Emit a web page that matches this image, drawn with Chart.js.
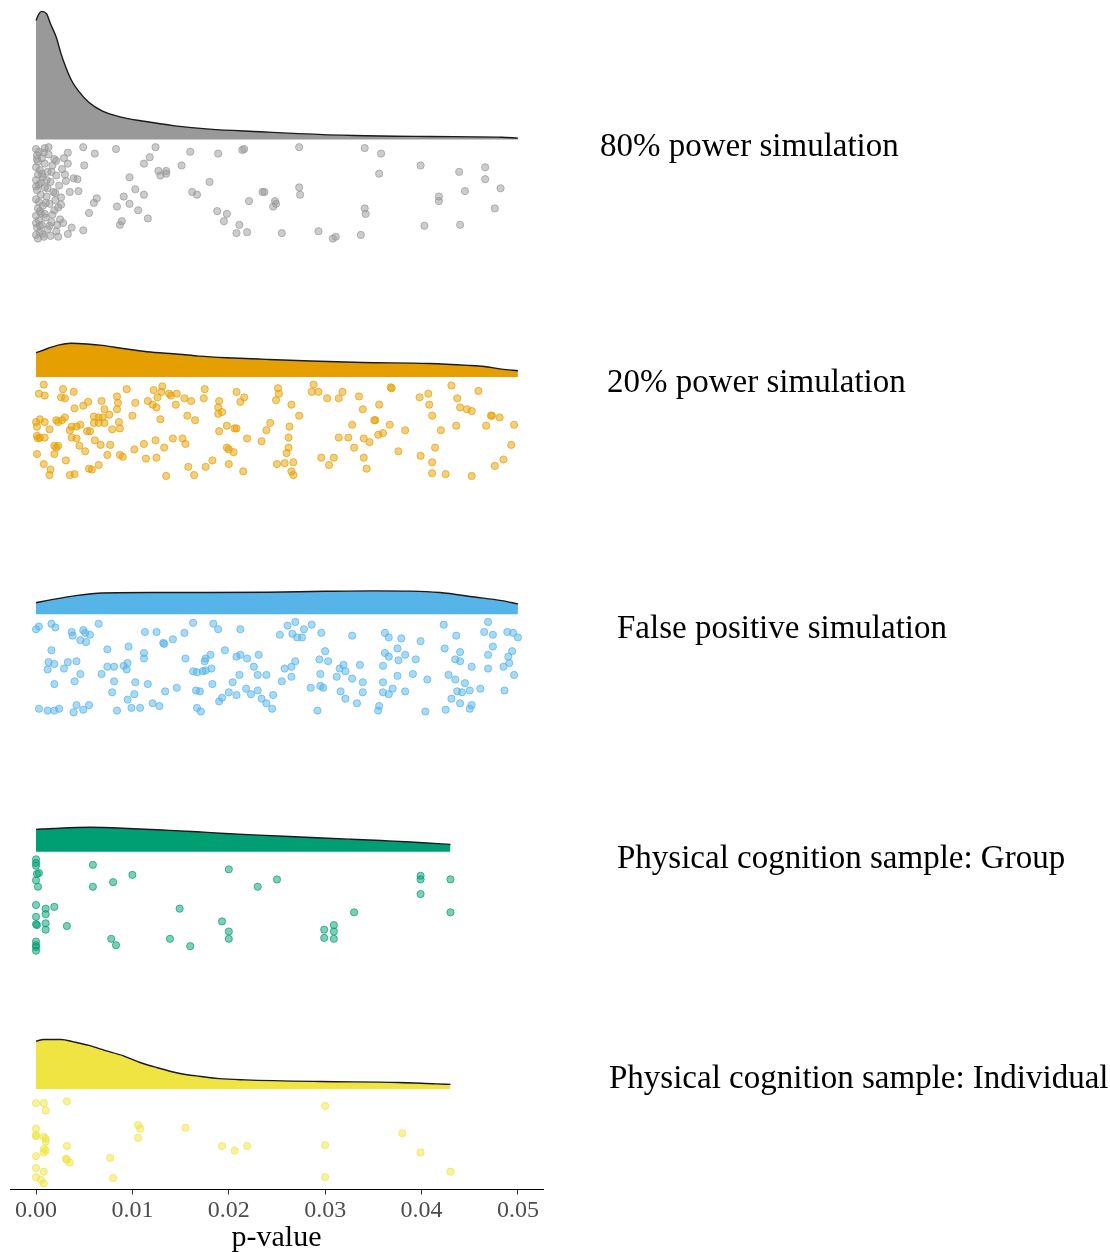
<!DOCTYPE html>
<html>
<head>
<meta charset="utf-8">
<script src="https://cdn.jsdelivr.net/npm/chart.js@4.4.1/dist/chart.umd.min.js"></script>
<style>
  html, body { margin: 0; padding: 0; background: #fff; }
  #wrap { width: 1110px; height: 1252px; position: relative; }
</style>
</head>
<body>
<div id="wrap"><canvas id="rain"></canvas></div>
<script>
'use strict';

// groups, top to bottom
var groupNames = [
  '80% power simulation',
  '20% power simulation',
  'False positive simulation',
  'Physical cognition sample: Group',
  'Physical cognition sample: Individual'
];
var groupColors = ['#999999', '#E69F00', '#56B4E9', '#009E73', '#F0E442'];
var xTicks = [0, 0.01, 0.02, 0.03, 0.04, 0.05];

// density outlines (p-value, height in group units)
var dens80P = [0, 0.0003, 0.0006, 0.0011, 0.0015, 0.0021, 0.0026, 0.0031, 0.0037, 0.0044, 0.0055, 0.0069, 0.0087, 0.0112, 0.0144, 0.018, 0.0233, 0.0272, 0.033, 0.0408, 0.0483, 0.05];
var dens80H = [0.502, 0.53, 0.54, 0.53, 0.488, 0.431, 0.361, 0.304, 0.248, 0.205, 0.156, 0.12, 0.096, 0.077, 0.058, 0.044, 0.033, 0.025, 0.017, 0.013, 0.01, 0.006];
var dens20P = [0, 0.0012, 0.0024, 0.0036, 0.0053, 0.0069, 0.009, 0.0115, 0.0148, 0.0169, 0.0198, 0.0239, 0.0285, 0.0339, 0.0408, 0.0448, 0.0465, 0.0483, 0.05];
var dens20H = [0.102, 0.12, 0.135, 0.142, 0.139, 0.133, 0.12, 0.106, 0.096, 0.088, 0.081, 0.074, 0.067, 0.061, 0.057, 0.049, 0.044, 0.033, 0.026];
var densFpP = [0, 0.0015, 0.0043, 0.0069, 0.012, 0.018, 0.024, 0.03, 0.035, 0.0389, 0.0419, 0.0455, 0.0483, 0.05];
var densFpH = [0.049, 0.061, 0.08, 0.09, 0.092, 0.092, 0.093, 0.097, 0.099, 0.098, 0.092, 0.073, 0.058, 0.044];
var densGrpP = [0, 0.0018, 0.0056, 0.0101, 0.0138, 0.0167, 0.0196, 0.0225, 0.0257, 0.0291, 0.0325, 0.0358, 0.0389, 0.0417, 0.043];
var densGrpH = [0.094, 0.098, 0.103, 0.097, 0.09, 0.084, 0.077, 0.071, 0.065, 0.059, 0.053, 0.047, 0.041, 0.034, 0.031];
var densIndP = [0, 0.0008, 0.0026, 0.0039, 0.0055, 0.0072, 0.009, 0.0108, 0.0126, 0.0147, 0.0169, 0.019, 0.0217, 0.0296, 0.0376, 0.0415, 0.043];
var densIndH = [0.202, 0.209, 0.209, 0.199, 0.184, 0.162, 0.141, 0.112, 0.09, 0.068, 0.054, 0.044, 0.039, 0.032, 0.028, 0.022, 0.02];

// jittered points: [p-value, jitter 0 (top) .. 1 (bottom)]
var pts80 = [
  [0.0013,0],[0.0049,0],[0.0061,0.07],[0.0083,0.02],[0.0124,0],[0.0118,0.11],[0.016,0.05],[0.0189,0.07],[0.0214,0.03],[0.0216,0.02],
  [0.0273,0],[0.0341,0.01],[0.0358,0.07],[0.0033,0.06],[0.0021,0.15],[0.0029,0.12],[0.0033,0.18],[0.005,0.2],[0.0112,0.18],[0.0151,0.2],
  [0.0399,0.2],[0.0439,0.27],[0.0466,0.22],[0.0466,0.35],[0.0356,0.29],[0.0097,0.33],[0.0127,0.26],[0.0129,0.31],[0.0135,0.29],[0.0135,0.26],
  [0.018,0.38],[0.003,0.3],[0.0039,0.34],[0.0043,0.35],[0.0031,0.37],[0.0044,0.48],[0.0035,0.49],[0.0103,0.46],[0.0112,0.52],[0.0091,0.54],
  [0.0063,0.56],[0.006,0.61],[0.0162,0.49],[0.0167,0.52],[0.0235,0.49],[0.0237,0.49],[0.0273,0.44],[0.0274,0.52],[0.0482,0.45],[0.0445,0.48],
  [0.0418,0.54],[0.0418,0.59],[0.0248,0.59],[0.0249,0.62],[0.0246,0.65],[0.0221,0.59],[0.0097,0.62],[0.0084,0.65],[0.0106,0.69],[0.0341,0.67],
  [0.0342,0.73],[0.0476,0.67],[0.0055,0.72],[0.0188,0.7],[0.0198,0.73],[0.0195,0.81],[0.0116,0.78],[0.0089,0.81],[0.0087,0.85],[0.0211,0.85],
  [0.0403,0.86],[0.044,0.85],[0.0049,0.91],[0.0037,0.88],[0.0028,0.83],[0.0208,0.94],[0.0219,0.93],[0.0255,0.94],[0.0293,0.92],[0.0308,1],
  [0.0311,0.98],[0.0337,0.96],[0.0033,0.95],[0.0023,0.98],
  [0,0.02],[0.0003,0.05],[0.0001,0.09],[0.0006,0.12],[0.0002,0.16],[0.0009,0.18],[0,0.22],[0.0004,0.25],[0.0012,0.27],[0.0002,0.3],
  [0.0007,0.33],[0,0.36],[0.0015,0.38],[0.0003,0.41],[0.0009,0.44],[0.0001,0.47],[0.0018,0.49],[0.0005,0.52],[0.0011,0.54],[0,0.57],
  [0.0003,0.6],[0.0014,0.62],[0.0007,0.64],[0.0002,0.67],[0.0019,0.69],[0.0005,0.72],[0,0.75],[0.001,0.77],[0.0003,0.8],[0.0016,0.82],
  [0.0006,0.85],[0.0001,0.88],[0.0012,0.9],[0.0004,0.93],[0,0.96],[0.0008,0.98],[0.0002,1],[0.0013,0.08],[0.0017,0.2],[0.0021,0.31],
  [0.0024,0.42],[0.002,0.58],[0.0023,0.66],[0.0017,0.74],[0.0025,0.79],[0.0021,0.92],[0.0015,0.97],[0.0008,0.06],[0.0005,0.39],[0.001,0.61],
  [0.0004,0.86],[0.0026,0.55],[0.0027,0.24],[0.0012,0.45],
  [0.0001,0.13],[0.0006,0.29],[0,0.43],[0.0011,0.36],[0.0004,0.7],[0.0009,0.73],[0,0.83],[0.0014,0.86],[0.0007,0.95],[0.0019,0.13],
  [0.002,0.5],[0.0016,0.27],[0.0009,0.01],[0.0026,0.63],[0.0022,0.85]
];
var pts20 = [
  [0.0008,0],[0.0003,0.1],[0.0009,0.12],[0.0028,0.05],[0.003,0.15],[0.0026,0.14],[0.0039,0.08],[0.004,0.26],[0.0049,0.23],[0.0054,0.19],
  [0.0068,0.18],[0.0071,0.27],[0.0076,0.33],[0.0084,0.27],[0.0085,0.2],[0.0084,0.13],[0.0094,0.05],[0.0103,0.2],[0.01,0.34],[0.0116,0.18],
  [0.0121,0.22],[0.0125,0.25],[0.0126,0.14],[0.013,0.08],[0.0122,0.06],[0.0131,0.02],[0.0138,0.1],[0.014,0.12],[0.0146,0.1],[0.0145,0.22],
  [0.0154,0.15],[0.0161,0.18],[0.0175,0.05],[0.0174,0.15],[0.019,0.18],[0.0189,0.25],[0.0189,0.32],[0.0193,0.3],[0.0208,0.08],[0.0212,0.19],
  [0.0216,0.14],[0.0251,0.04],[0.0252,0.1],[0.0249,0.17],[0.0265,0.22],[0.0273,0.34],[0.0288,0],[0.0286,0.08],[0.0293,0.08],[0.0302,0.15],
  [0.0314,0.15],[0.0318,0.08],[0.0335,0.13],[0.0339,0.27],[0.0356,0.22],[0.0352,0.39],[0.0368,0.03],[0.0369,0.04],[0.0398,0.14],[0.0407,0.1],
  [0.0408,0.22],[0.0411,0.34],[0.0431,0.01],[0.0437,0.15],[0.044,0.25],[0.0447,0.27],[0.0452,0.29],[0.0459,0.07],[0.0473,0.34],[0.0481,0.36],
  [0.0496,0.44],
  [0,0.41],[0.0001,0.46],[0.0004,0.38],[0.0009,0.41],[0.0014,0.49],[0.0001,0.56],[0.0004,0.58],[0.0009,0.58],[0.0002,0.59],[0.0023,0.41],
  [0.0027,0.39],[0.003,0.36],[0.0021,0.39],[0.0037,0.46],[0.0035,0.5],[0.0042,0.46],[0.0046,0.44],[0.0053,0.51],[0.0056,0.51],[0.006,0.42],
  [0.0065,0.42],[0.0065,0.36],[0.0071,0.42],[0.006,0.35],[0.0069,0.36],[0.0079,0.49],[0.0087,0.48],[0.0086,0.41],[0.0129,0.38],[0.0157,0.34],
  [0.0165,0.39],[0.019,0.51],[0.0198,0.45],[0.0206,0.48],[0.0208,0.48],[0.0239,0.5],[0.0243,0.42],[0.0263,0.46],[0.0328,0.44],[0.0351,0.39],
  [0.0367,0.44],[0.0383,0.5],[0.042,0.5],[0.0436,0.45],[0.0467,0.45],[0.0472,0.34],
  [0.0037,0.58],[0.0042,0.59],[0.0045,0.67],[0.0051,0.73],[0.0061,0.61],[0.0067,0.66],[0.0077,0.66],[0.0074,0.77],[0.0087,0.77],[0.009,0.79],
  [0.0102,0.71],[0.0112,0.65],[0.0124,0.61],[0.0133,0.69],[0.0142,0.59],[0.0152,0.59],[0.0155,0.65],[0.0198,0.69],[0.02,0.71],[0.0205,0.74],
  [0.0219,0.59],[0.0234,0.62],[0.0262,0.58],[0.0262,0.69],[0.026,0.75],[0.0314,0.58],[0.0324,0.58],[0.033,0.69],[0.034,0.59],[0.0346,0.63],
  [0.0355,0.55],[0.036,0.53],[0.0376,0.73],[0.0399,0.78],[0.0414,0.69],[0.0411,0.85],[0.0493,0.66],
  [0.0001,0.76],[0.0008,0.87],[0.0019,0.67],[0.0021,0.69],[0.0023,0.67],[0.0019,0.76],[0.0031,0.83],[0.0015,0.93],[0.0014,0.99],[0.0035,0.99],
  [0.004,0.98],[0.0055,0.92],[0.0058,0.93],[0.0065,0.88],[0.0114,0.81],[0.0125,0.8],[0.0158,0.9],[0.0164,0.99],[0.0176,0.9],[0.0183,0.83],
  [0.02,0.87],[0.0215,0.95],[0.025,0.87],[0.0258,0.86],[0.0267,0.85],[0.0265,0.95],[0.0267,0.99],[0.0296,0.8],[0.0304,0.88],[0.0309,0.8],
  [0.034,0.8],[0.0343,0.92],[0.0411,0.97],[0.0425,0.98],[0.0452,1],[0.0476,0.89],[0.0485,0.82],[0.0135,1]
];
var ptsFp = [
  [0,0.08],[0.0003,0.05],[0.0016,0.02],[0.002,0.06],[0.0037,0.11],[0.0038,0.15],[0.0049,0.09],[0.0051,0.12],[0.0046,0.2],[0.0052,0.22],
  [0.0056,0.14],[0.0065,0.02],[0.0113,0.11],[0.0125,0.11],[0.0132,0.23],[0.0142,0.19],[0.0154,0.12],[0.0163,0.01],[0.0184,0.02],[0.0189,0.08],
  [0.0212,0.08],[0.0253,0.14],[0.0261,0.04],[0.0269,0],[0.0266,0.13],[0.0271,0.17],[0.0278,0.08],[0.0276,0.17],[0.0286,0.03],[0.0296,0.12],
  [0.0328,0.15],[0.0362,0.12],[0.0366,0.17],[0.0379,0.18],[0.0399,0.21],[0.0423,0.03],[0.0436,0.15],[0.0469,0],[0.0465,0.11],[0.0474,0.14],
  [0.0489,0.11],[0.0495,0.12],[0.05,0.17],
  [0.0016,0.31],[0.0013,0.44],[0.0012,0.52],[0.0019,0.46],[0.0029,0.51],[0.0033,0.44],[0.0042,0.43],[0.0046,0.57],[0.004,0.65],[0.0019,0.68],
  [0.0068,0.57],[0.0074,0.3],[0.0074,0.49],[0.0081,0.49],[0.0091,0.48],[0.0096,0.27],[0.0095,0.45],[0.0094,0.52],[0.0112,0.34],[0.0112,0.4],
  [0.0133,0.24],[0.0081,0.65],[0.0103,0.66],[0.0116,0.68],[0.0155,0.4],[0.0163,0.54],[0.0167,0.55],[0.0173,0.54],[0.0176,0.53],[0.0175,0.43],
  [0.0176,0.4],[0.0181,0.36],[0.0182,0.51],[0.0196,0.31],[0.0208,0.38],[0.0212,0.36],[0.0219,0.4],[0.0226,0.49],[0.0231,0.36],[0.023,0.58],
  [0.0239,0.58],[0.0211,0.58],[0.0204,0.66],[0.0183,0.68],[0.0258,0.51],[0.0265,0.49],[0.0269,0.43],[0.0265,0.6],[0.0255,0.65],[0.03,0.32],
  [0.0294,0.41],[0.0303,0.43],[0.0295,0.57],[0.0312,0.6],[0.0315,0.51],[0.0319,0.47],[0.0321,0.54],[0.0328,0.62],[0.0336,0.47],[0.0339,0.66],
  [0.036,0.48],[0.0362,0.34],[0.0366,0.38],[0.0376,0.42],[0.0375,0.29],[0.0383,0.36],[0.0394,0.41],[0.0391,0.57],[0.0375,0.59],[0.036,0.66],
  [0.0406,0.63],[0.0424,0.29],[0.044,0.33],[0.044,0.43],[0.0435,0.41],[0.0452,0.49],[0.0469,0.36],[0.0474,0.27],[0.0469,0.51],[0.049,0.38],
  [0.0494,0.32],[0.0491,0.45],[0.0485,0.49],[0.0496,0.58],[0.0428,0.58],[0.0435,0.63],[0.0445,0.67],
  [0.0079,0.77],[0.0095,0.85],[0.0102,0.79],[0.0099,0.94],[0.0108,0.94],[0.0121,0.89],[0.0128,0.92],[0.0134,0.76],[0.0146,0.72],[0.0166,0.75],
  [0.017,0.76],[0.0167,0.94],[0.0171,0.98],[0.019,0.87],[0.02,0.77],[0.0193,0.83],[0.0208,0.8],[0.0218,0.73],[0.0223,0.79],[0.023,0.75],
  [0.0234,0.84],[0.0239,0.89],[0.0246,0.8],[0.0245,0.95],[0.0285,0.72],[0.0295,0.7],[0.0298,0.72],[0.0292,0.97],[0.0316,0.76],[0.0321,0.84],
  [0.0333,0.89],[0.0339,0.77],[0.036,0.77],[0.037,0.73],[0.0366,0.79],[0.0383,0.76],[0.0356,0.92],[0.0355,0.97],[0.0404,0.98],[0.0425,0.96],
  [0.0431,0.84],[0.0437,0.76],[0.0442,0.77],[0.044,0.89],[0.045,0.75],[0.0461,0.73],[0.0452,0.91],[0.045,0.95],[0.0486,0.75],
  [0.0003,0.95],[0.0012,0.97],[0.0019,0.97],[0.0024,0.95],[0.0039,0.99],[0.0042,0.91],[0.0049,0.96],[0.0055,0.91],[0.0084,0.97]
];
var ptsGrp = [
  [0,0],[0,0.04],[0,0.07],[0.0003,0.15],[0.0001,0.16],[0,0.23],[0.0002,0.3],[0.0059,0.06],[0.0059,0.3],[0.008,0.25],
  [0.01,0.17],[0.02,0.11],[0.023,0.3],[0.025,0.22],[0.0399,0.18],[0.0399,0.22],[0.0399,0.38],[0.043,0.22],[0.043,0.58],[0.033,0.58],
  [0,0.5],[0.001,0.54],[0.0019,0.52],[0,0.63],[0.001,0.6],[0,0.71],[0.0001,0.72],[0.001,0.7],[0.001,0.77],[0.0032,0.73],
  [0.0149,0.54],[0.0193,0.68],[0.02,0.79],[0.02,0.87],[0.0299,0.77],[0.0299,0.86],[0.0309,0.72],[0.0309,0.79],[0.0309,0.87],[0.0078,0.87],
  [0.0083,0.94],[0.0139,0.87],[0.016,0.95],[0,0.9],[0,0.94],[0,0.96],[0,1]
];
var ptsInd = [
  [0,0.07],[0.0008,0.07],[0.001,0.15],[0.0032,0.05],[0.03,0.1],[0,0.35],[0,0.42],[0,0.43],[0.0008,0.44],[0.001,0.46],
  [0.001,0.49],[0.0008,0.57],[0.001,0.59],[0.0008,0.61],[0,0.65],[0,0.78],[0.0008,0.82],[0,0.88],[0.0005,0.91],[0.0008,0.95],
  [0.0032,0.54],[0.0031,0.68],[0.0032,0.69],[0.0035,0.72],[0.0077,0.67],[0.008,0.89],[0.0106,0.31],[0.0108,0.35],[0.0106,0.45],[0.0155,0.34],
  [0.0193,0.54],[0.0206,0.59],[0.0219,0.54],[0.03,0.53],[0.03,0.88],[0.038,0.4],[0.0399,0.61],[0.043,0.82]
];

var densP = [dens80P, dens20P, densFpP, densGrpP, densIndP];
var densH = [dens80H, dens20H, densFpH, densGrpH, densIndH];
var points = [pts80, pts20, ptsFp, ptsGrp, ptsInd];

// layout constants (not data)
var serif = "'Liberation Serif', 'Times New Roman', serif";
var jitterTop = 0.032, jitterSpan = 0.385;
var labelX = [600, 607, 617, 617, 609];
var labelDy = [8, 6, 15, 8, -10];

function hexToRgba(hex, a) {
  var n = parseInt(hex.slice(1), 16);
  return 'rgba(' + (n >> 16) + ',' + ((n >> 8) & 255) + ',' + (n & 255) + ',' + a + ')';
}

var datasets = [];
groupNames.forEach(function (name, i) {
  var base = groupNames.length - 1 - i;
  datasets.push({
    label: name + ' density',
    data: densP[i].map(function (p, k) { return { x: p, y: base + densH[i][k] }; }),
    showLine: true,
    fill: { value: base },
    backgroundColor: groupColors[i],
    borderColor: '#1a1a1a',
    borderWidth: 1.4,
    pointRadius: 0,
    cubicInterpolationMode: 'monotone'
  });
  datasets.push({
    label: name,
    data: points[i].map(function (d) { return { x: d[0], y: base - jitterTop - d[1] * jitterSpan }; }),
    showLine: false,
    pointRadius: 3.6,
    borderWidth: 1,
    backgroundColor: hexToRgba(groupColors[i], 0.5),
    borderColor: hexToRgba(groupColors[i], 0.7)
  });
});

var groupLabels = {
  id: 'groupLabels',
  afterDraw: function (chart) {
    var ctx = chart.ctx;
    var y = chart.scales.y;
    ctx.save();
    ctx.font = '33px ' + serif;
    ctx.fillStyle = '#000';
    ctx.textAlign = 'left';
    ctx.textBaseline = 'middle';
    groupNames.forEach(function (name, i) {
      var base = groupNames.length - 1 - i;
      ctx.fillText(name, labelX[i], y.getPixelForValue(base) + labelDy[i]);
    });
    ctx.restore();
  }
};

new Chart(document.getElementById('rain'), {
  type: 'scatter',
  data: { datasets: datasets },
  options: {
    responsive: true,
    maintainAspectRatio: false,
    animation: false,
    layout: { padding: { left: 10, right: 567, top: 2, bottom: 0 } },
    plugins: {
      legend: { display: false },
      tooltip: { enabled: false }
    },
    scales: {
      x: {
        type: 'linear',
        min: -0.0027,
        max: 0.0526,
        afterBuildTicks: function (axis) {
          axis.ticks = xTicks.map(function (v) { return { value: v }; });
        },
        ticks: {
          callback: function (v) { return v.toFixed(2); },
          font: { family: serif, size: 24, lineHeight: 1 },
          color: '#4D4D4D',
          padding: 4,
          maxRotation: 0
        },
        grid: { drawOnChartArea: false, drawTicks: true, tickLength: 5, color: '#333333' },
        border: { display: true, color: '#000000', width: 1 },
        title: {
          display: true,
          text: 'p-value',
          font: { family: serif, size: 30, lineHeight: 0.75 },
          color: '#000',
          padding: { top: 0, bottom: 3 }
        }
      },
      y: {
        type: 'linear',
        display: false,
        min: -0.423,
        max: 4.567
      }
    }
  },
  plugins: [groupLabels]
});
</script>
</body>
</html>
